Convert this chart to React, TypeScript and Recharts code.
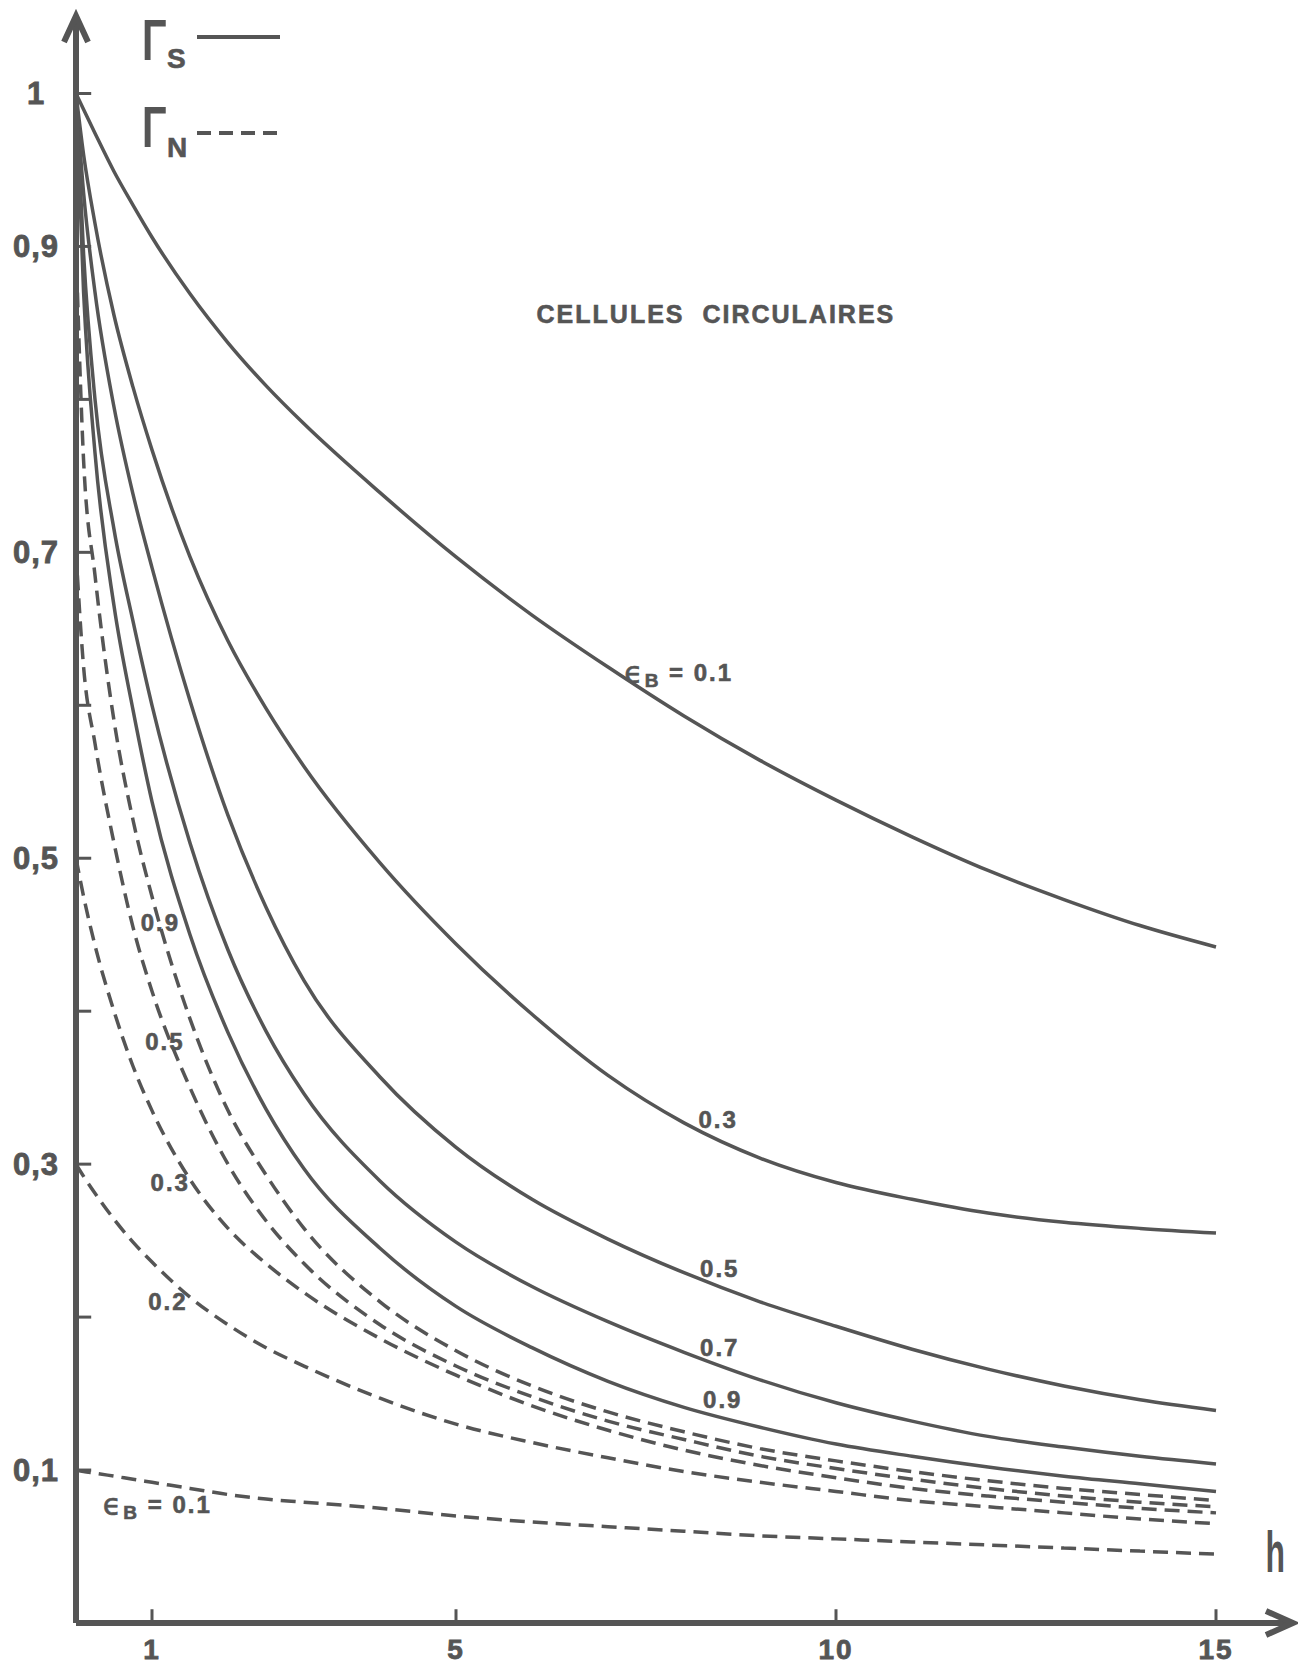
import React from "react";
import { LineChart, Line, XAxis, YAxis, ReferenceLine, ReferenceDot, Legend } from "recharts";

// abscissa h shared by every curve
const hSteps = [0, 0.1, 0.25, 0.5, 0.75, 1, 1.5, 2, 2.5, 3, 4, 5, 6, 7, 8, 9, 10, 11, 12, 13, 14, 15];

// Γ_S (solid curves), one list per ε_B
const gammaS01 = [1.0, 0.9895, 0.974, 0.949, 0.927, 0.906, 0.869, 0.837, 0.809, 0.784, 0.739, 0.697, 0.659, 0.625, 0.593, 0.564, 0.538, 0.514, 0.492, 0.473, 0.456, 0.442];
const gammaS03 = [1.0, 0.96, 0.915, 0.855, 0.808, 0.767, 0.697, 0.642, 0.598, 0.56, 0.497, 0.444, 0.398, 0.358, 0.327, 0.304, 0.288, 0.277, 0.268, 0.262, 0.258, 0.255];
const gammaS05 = [1.0, 0.935, 0.87, 0.795, 0.738, 0.69, 0.603, 0.528, 0.468, 0.42, 0.357, 0.311, 0.277, 0.251, 0.229, 0.21, 0.194, 0.179, 0.166, 0.155, 0.146, 0.139];
const gammaS07 = [1.0, 0.895, 0.8, 0.715, 0.655, 0.6, 0.51, 0.44, 0.387, 0.346, 0.289, 0.249, 0.22, 0.197, 0.177, 0.159, 0.144, 0.132, 0.122, 0.115, 0.109, 0.104];
const gammaS09 = [1.0, 0.87, 0.765, 0.665, 0.597, 0.537, 0.45, 0.386, 0.336, 0.297, 0.245, 0.207, 0.18, 0.158, 0.141, 0.128, 0.117, 0.109, 0.102, 0.096, 0.091, 0.086];

// Γ_N (dashed curves)
const gammaN01 = [0.1, 0.099, 0.098, 0.096, 0.094, 0.092, 0.088, 0.084, 0.081, 0.079, 0.075, 0.07, 0.066, 0.063, 0.06, 0.057, 0.055, 0.053, 0.051, 0.049, 0.047, 0.045];
const gammaN02 = [0.3, 0.292, 0.281, 0.264, 0.249, 0.236, 0.213, 0.195, 0.18, 0.168, 0.147, 0.13, 0.118, 0.108, 0.099, 0.092, 0.086, 0.08, 0.076, 0.072, 0.068, 0.065];
const gammaN03 = [0.5, 0.475, 0.443, 0.4, 0.364, 0.335, 0.29, 0.258, 0.235, 0.216, 0.186, 0.162, 0.142, 0.126, 0.113, 0.103, 0.095, 0.088, 0.083, 0.079, 0.075, 0.072];
const gammaN05 = [0.7, 0.625, 0.575, 0.51, 0.455, 0.413, 0.35, 0.3, 0.263, 0.235, 0.195, 0.168, 0.148, 0.132, 0.12, 0.109, 0.101, 0.094, 0.088, 0.083, 0.079, 0.076];
const gammaN09 = [0.9, 0.76, 0.685, 0.59, 0.525, 0.475, 0.395, 0.335, 0.293, 0.258, 0.21, 0.178, 0.155, 0.138, 0.125, 0.114, 0.106, 0.099, 0.093, 0.088, 0.084, 0.08];

const xTicks = [1, 5, 10, 15];
const yLabelTicks = [0.1, 0.3, 0.5, 0.7, 0.9, 1];
const yMarks = [0.1, 0.2, 0.3, 0.4, 0.5, 0.6, 0.7, 0.8, 0.9, 1];

// curve labels: [h, value, text, with ϵB prefix]
const curveNotes: [number, number, string, boolean][] = [
  [7.93, 0.622, "0.1", true],
  [8.45, 0.329, "0.3", false],
  [8.47, 0.232, "0.5", false],
  [8.47, 0.18, "0.7", false],
  [8.51, 0.146, "0.9", false],
  [1.11, 0.458, "0.9", false],
  [1.17, 0.38, "0.5", false],
  [1.24, 0.288, "0.3", false],
  [1.21, 0.21, "0.2", false],
  [1.07, 0.078, "0.1", true],
];

const INK = "#555555";
const FONT = "'Liberation Sans', Arial, sans-serif";

const toPoints = (vals: number[]) => hSteps.map((h, i) => ({ h, v: vals[i] }));

const series = [
  { name: "S 0.1", vals: gammaS01, dashed: false },
  { name: "S 0.3", vals: gammaS03, dashed: false },
  { name: "S 0.5", vals: gammaS05, dashed: false },
  { name: "S 0.7", vals: gammaS07, dashed: false },
  { name: "S 0.9", vals: gammaS09, dashed: false },
  { name: "N 0.1", vals: gammaN01, dashed: true },
  { name: "N 0.2", vals: gammaN02, dashed: true },
  { name: "N 0.3", vals: gammaN03, dashed: true },
  { name: "N 0.5", vals: gammaN05, dashed: true },
  { name: "N 0.9", vals: gammaN09, dashed: true },
];

const XTick = (p: any) => (
  <text x={p.x} y={p.y + 26} textAnchor="middle" dominantBaseline="central" fontFamily={FONT}
    fontWeight="bold" fontSize={28} letterSpacing={2} fill={INK} stroke={INK} strokeWidth={0.8}>
    {p.payload.value}
  </text>
);

const YTick = (p: any) => {
  const v = p.payload.value;
  const label = v === 1 ? "1" : v.toFixed(1).replace(".", ",");
  return (
    <text x={p.x - 40} y={p.y} textAnchor="middle" dominantBaseline="central" fontFamily={FONT}
      fontWeight="bold" fontSize={31} letterSpacing={1} fill={INK} stroke={INK} strokeWidth={0.8}>
      {label}
    </text>
  );
};

const noteShape = (text: string, eps: boolean) => (p: any) => (
  <text x={p.cx} y={p.cy} textAnchor="middle" dominantBaseline="central" fontFamily={FONT}
    fontWeight="bold" fontSize={24} letterSpacing={2} fill={INK} stroke={INK} strokeWidth={0.6}>
    {eps && <tspan fontFamily="'DejaVu Sans', sans-serif" fontWeight="normal" fontSize={30}>ϵ</tspan>}
    {eps && <tspan fontSize={19} dy={8}>B</tspan>}
    {eps ? <tspan dy={-8}>{" = " + text}</tspan> : text}
  </text>
);

const LegendBox = () => (
  <svg width={300} height={170}>
    <text transform="translate(142,60) scale(0.7,1)" fontFamily={FONT} fontWeight="bold" fontSize={58} fill={INK}>Γ</text>
    <text x={167} y={68} fontFamily={FONT} fontWeight="bold" fontSize={28} fill={INK} stroke={INK} strokeWidth={0.6}>S</text>
    <line x1={197} y1={37} x2={280} y2={37} stroke={INK} strokeWidth={4} />
    <text transform="translate(142,147) scale(0.7,1)" fontFamily={FONT} fontWeight="bold" fontSize={58} fill={INK}>Γ</text>
    <text x={167} y={157} fontFamily={FONT} fontWeight="bold" fontSize={28} fill={INK} stroke={INK} strokeWidth={0.6}>N</text>
    <line x1={197} y1={133} x2={280} y2={133} stroke={INK} strokeWidth={4} strokeDasharray="14 8" />
  </svg>
);

export default function App() {
  return (
    <div style={{ position: "absolute", left: 0, top: 0, background: "#fff" }}>
      <LineChart width={1298} height={1667} margin={{ top: 17, right: 6, left: 16, bottom: 0 }}>
        <XAxis type="number" dataKey="h" domain={[0, 16]} ticks={xTicks} tick={XTick} tickLine={false}
          tickSize={0} tickMargin={0} height={44} axisLine={{ stroke: INK, strokeWidth: 6 }} allowDataOverflow />
        <YAxis type="number" domain={[0, 1.05]} ticks={yLabelTicks} tick={YTick} tickLine={false}
          tickSize={0} tickMargin={0} width={60} axisLine={{ stroke: INK, strokeWidth: 6 }} allowDataOverflow />
        <Legend content={LegendBox} layout="vertical" align="center" verticalAlign="middle"
          wrapperStyle={{ position: "absolute", left: 0, top: 0, width: 300, height: 170 }} />

        {yMarks.map((m) => (
          <ReferenceLine key={"ym" + m} segment={[{ x: 0, y: m }, { x: 0.2, y: m }]} stroke={INK} strokeWidth={3} />
        ))}
        {xTicks.map((t) => (
          <ReferenceLine key={"xm" + t} segment={[{ x: t, y: 0 }, { x: t, y: 0.009 }]} stroke={INK} strokeWidth={3} />
        ))}

        {series.map((s) => (
          <Line key={s.name} name={s.name} data={toPoints(s.vals)} dataKey="v" type="monotone" stroke={INK}
            strokeWidth={3.5} strokeDasharray={s.dashed ? "15 8" : undefined} dot={false} activeDot={false}
            isAnimationActive={false} />
        ))}

        {curveNotes.map(([h, v, text, eps], i) => (
          <ReferenceDot key={"n" + i} x={h} y={v} r={0} shape={noteShape(text, eps)} />
        ))}

        <ReferenceDot x={8.42} y={0.856} r={0} shape={(p: any) => (
          <text x={p.cx} y={p.cy} textAnchor="middle" dominantBaseline="central" fontFamily={FONT}
            fontWeight="bold" fontSize={25} letterSpacing={2} fill={INK} stroke={INK} strokeWidth={0.6}
            xmlSpace="preserve">
            CELLULES  CIRCULAIRES
          </text>
        )} />
        <ReferenceDot x={15.78} y={0.047} r={0} shape={(p: any) => (
          <text transform={`translate(${p.cx},${p.cy + 21}) scale(0.55,1)`} textAnchor="middle"
            fontFamily={FONT} fontWeight="bold" fontSize={58} fill={INK}>h</text>
        )} />

        {/* axis arrowheads */}
        <ReferenceDot x={0} y={1.05} r={0} shape={(p: any) => (
          <path d={`M${p.cx - 12},${p.cy + 25} L${p.cx},${p.cy - 1} L${p.cx + 12},${p.cy + 25}`}
            fill="none" stroke={INK} strokeWidth={6} strokeLinejoin="miter" />
        )} />
        <ReferenceDot x={16} y={0} r={0} shape={(p: any) => (
          <path d={`M${p.cx - 26},${p.cy - 12} L${p.cx + 1},${p.cy} L${p.cx - 26},${p.cy + 12}`}
            fill="none" stroke={INK} strokeWidth={6} strokeLinejoin="miter" />
        )} />
      </LineChart>
    </div>
  );
}
